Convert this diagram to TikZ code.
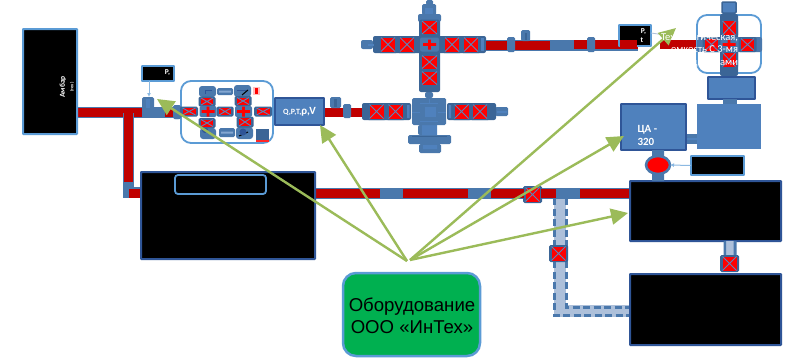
\documentclass[tikz,border=0pt]{standalone}
\usepackage{fontspec}
\setmainfont{Liberation Sans}
\newfontfamily\lab{Carlito}
\usetikzlibrary{arrows.meta,shapes.geometric}
\definecolor{vdark}{HTML}{3B6596}
\definecolor{vmid}{HTML}{4A78AC}
\definecolor{vfill}{HTML}{4F81BD}
\definecolor{vedge}{HTML}{2F5597}
\definecolor{lblue}{HTML}{5B9BD5}
\definecolor{pred}{HTML}{C00000}
\definecolor{gline}{HTML}{9BBB59}
\definecolor{gbox}{HTML}{00B050}
\definecolor{lband}{HTML}{ADC0DA}
\definecolor{xcol}{HTML}{5A86BC}
\tikzset{
  x=1pt,y=-1pt,
  every node/.style={inner sep=0pt,outer sep=0pt},
  blackbox/.style={draw=vedge,line width=2pt,fill=black,rounded corners=0.5pt,anchor=north west},
  lightbox/.style={draw=lblue,line width=1.8pt,fill=black,rounded corners=0.5pt,anchor=north west},
  bluebox/.style={draw=vedge,line width=1.8pt,fill=vfill,anchor=north west,rounded corners=0.5pt},
  midb/.style={fill=vmid,rounded corners=1.5pt},
  pipeb/.style={draw=vmid,line width=11pt},
  piper/.style={draw=pred,line width=9pt},
  green arrow/.style={draw=gline,line width=2.4pt,-{Triangle[length=17pt,width=16pt]},shorten >=0pt},
  thin arrow/.style={draw=lblue!70,line width=1pt,-{Latex[length=4pt,width=4pt]}},
  wl/.style={text=white,font=\lab\bfseries},
  dash edge/.style={draw=vmid,line width=3pt,dash pattern=on 7pt off 3.5pt},
}
\newcommand\vlv[4]{% cx cy w h
  \begin{scope}[shift={(#1,#2)}]
    \pgfmathsetmacro\wo{#3/2}\pgfmathsetmacro\ho{#4/2}
    \pgfmathsetmacro\wi{#3/2-2.5}\pgfmathsetmacro\hi{#4/2-1.5}
    \fill[vdark,rounded corners=1.5pt] (-\wo,-\ho) rectangle (\wo,\ho);
    \fill[red] (-\wi,-\hi) rectangle (\wi,\hi);
    \draw[xcol,line width=0.9pt] (-\wi,-\hi) -- (\wi,\hi) (-\wi,\hi) -- (\wi,-\hi);
  \end{scope}}
\newcommand\crs[4]{% cx cy w h
  \begin{scope}[shift={(#1,#2)}]
    \pgfmathsetmacro\wo{#3/2}\pgfmathsetmacro\ho{#4/2}
    \fill[vmid,rounded corners=2pt] (-\wo,-\ho) rectangle (\wo,\ho);
    \fill[red] (-6.5,-1.3) rectangle (6.5,1.3) (-1.3,-5) rectangle (1.3,5);
  \end{scope}}
\begin{document}
\begin{tikzpicture}
\useasboundingbox (0,0) rectangle (796,359);
\fill[white] (0,0) rectangle (796,359);

% ---- main pipes
\draw[pipeb] (77,112.5) -- (180,112.5);
\draw[piper] (77,112.5) -- (142,112.5) (165,112.5) -- (176,112.5);
\draw[pipeb] (128.5,113) -- (128.5,192.5) -- (142,192.5);
\draw[piper] (128.5,113) -- (128.5,182);
\draw[piper] (129,193) -- (142,193);
\fill[midb] (142,97) rectangle (154,108);
\fill[vfill] (146,99) rectangle (150,108);
\fill[midb] (173,105) rectangle (180,119);

% dashed branch
\draw[lband,line width=12pt] (560,194) -- (560,311) -- (630,311);
\draw[dash edge] (554,198) -- (554,315) -- (630,315);
\draw[dash edge] (566,198) -- (566,307) -- (630,307);

\draw[pipeb] (315,193.5) -- (630,193.5);
\draw[piper] (315,193.5) -- (380,193.5) (403,193.5) -- (468,193.5) (491,193.5) -- (556,193.5) (580,193.5) -- (630,193.5);
\vlv{532.5}{194.5}{19}{17}
\draw[pred,line width=9pt] (491,193.5) -- (524,193.5) (541,193.5) -- (556,193.5);

% ---- boxes
\node[blackbox,minimum width=54pt,minimum height=105pt,draw=lblue] (ambar) at (23,29) {};
\node[wl,rotate=90,font=\lab\bfseries\fontsize{7.5}{7.5}\selectfont] at (63,87) {Амбар};
\node[wl,rotate=90,font=\lab\bfseries\fontsize{4.5}{4.5}\selectfont] at (72,87) {(тех)};
\node[lightbox,minimum width=32pt,minimum height=15pt] (pleft) at (142,66) {};
\node[wl,font=\lab\bfseries\fontsize{7.5}{7.5}\selectfont] at (167.5,73) {P,};
\coordinate (ptap) at (149,97);
\draw[thin arrow] (149,81) -- (ptap);

\node[blackbox,minimum width=174pt,minimum height=87pt] (sep) at (141,172) {};
\node[lightbox,minimum width=91pt,minimum height=19pt,rounded corners=3pt] (sepin) at (175,175) {};

\node[blackbox,minimum width=151pt,minimum height=60pt] (b3) at (630,181) {};
\node[blackbox,minimum width=151pt,minimum height=71pt] (b4) at (630,274) {};
\fill[lband] (725,241) rectangle (736,257);
\fill[vmid] (723.5,241) rectangle (726,256) (733.5,241) rectangle (736.5,256);
\vlv{729.5}{263.5}{19}{17}

\vlv{558.5}{253.5}{19}{17}

% ---- manifold
\node[draw=lblue,line width=1.8pt,fill=white,rounded corners=10pt,minimum width=92pt,minimum height=62pt,anchor=north west] (mani) at (181,81) {};
\fill[midb] (174,105) rectangle (181,119);
\fill[midb,rounded corners=3pt] (199,86) rectangle (216,97) (234,85) rectangle (251,97) (200,128) rectangle (216,139) (236,127) rectangle (253,139);
\fill[midb] (217,88) rectangle (233,95) (219,128) rectangle (235,137);
\fill[vfill!70] (219,90.5) rectangle (231,92.5) (221,131.5) rectangle (233,133.5);
\fill[pink] (253,87) rectangle (260,95); \fill[red] (255,88) rectangle (258,94);
\draw[vedge,line width=.8pt] (205,94) -- (205,90) -- (212,90) (237,90) -- (248,90);
\draw[black,line width=1pt] (242,95) -- (248,90);
\draw[black,line width=1pt] (239,136) -- (248,132);
\fill[vedge] (205,130) circle (3pt) (243,132) circle (3.5pt);
\fill[vdark] (256,129) rectangle (269,140);
\fill[red!80!pink] (256,139.5) rectangle (269,141.5);
\vlv{189}{111.5}{18}{10}
\vlv{225}{111.5}{17}{10}
\vlv{263}{111.5}{18}{10}
\vlv{207}{101.5}{17}{10}
\vlv{243}{101}{17}{10}
\vlv{207}{123}{17}{10}
\vlv{245}{122}{17}{11}
\crs{208}{111.5}{17}{11}
\crs{243.5}{111.5}{17}{11}

% ---- flowmeter and center tree
\draw[piper] (324,112) -- (363,112);
\fill[midb] (330,97) rectangle (341,108);
\fill[vdark] (334,99) rectangle (336.5,107);
\fill[midb] (343,104) rectangle (351,118);
\node[bluebox,minimum width=49pt,minimum height=27pt] (qbox) at (275,98) {};
\node[text=white,font=\lab\bfseries\fontsize{8}{8}\selectfont] at (299.5,112) {Q,P,T,{\fontsize{11}{11}\selectfont ρ,V}};

\fill[midb] (495,107) rectangle (508,116);
\fill[vfill] (497,110.5) rectangle (507,112.5);
\fill[vmid,rounded corners=2pt] (425,92) rectangle (433,98);
\fill[vmid,rounded corners=2pt] (418,125) rectangle (436,135);
\fill[midb] (408,135) rectangle (451,144);
\fill[midb] (419,144) rectangle (441,153);
\fill[vfill] (422,125) rectangle (437,135) (423,145) rectangle (437,149);
\fill[vdark] (412,135.5) rectangle (447,136.5);
\fill[midb] (412,98) rectangle (446,125);
\fill[vfill] (425,107) rectangle (436,117);
\draw[vfill,line width=.8pt] (412,112) -- (420,112) (438,112) -- (446,112) (429,99) -- (429,103) (420,103) -- (438,103) (420,121) -- (438,121);
\fill[vdark,rounded corners=2pt] (362,103) rectangle (411,120) (447,103) rectangle (496,120);
\vlv{376.5}{111.5}{19}{17}
\vlv{395.5}{111.5}{19}{17}
\vlv{461.5}{111.5}{19}{17}
\vlv{480}{111.5}{19}{17}
\fill[vfill] (407,105) rectangle (409.5,118) (448.5,105) rectangle (451,118);

% ---- top tree
\fill[midb] (426,0) rectangle (433,5);
\fill[midb] (422,4) rectangle (436,15);
\fill[vfill] (425,8) rectangle (433,14);
\fill[midb,rounded corners=2pt] (418,14) rectangle (441,22);
\fill[vdark,rounded corners=2pt] (419,20) rectangle (440,92);
\fill[vdark,rounded corners=2pt] (373,36) rectangle (486,53);
\fill[midb,rounded corners=2pt] (361,40) rectangle (373,49);
\fill[vfill] (368,43.5) rectangle (374,46);
\vlv{429.5}{27.5}{20}{16}
\vlv{429.5}{62}{20}{16}
\vlv{429.5}{78}{20}{16}
\vlv{388}{44.5}{19}{17}
\vlv{407}{44.5}{19}{17}
\vlv{452}{44.5}{19}{17}
\vlv{471}{44.5}{19}{17}
\crs{429.5}{44.5}{19}{14}
\fill[vfill] (481,38) rectangle (484,51);
\draw[pipeb] (486,45) -- (638,45);
\draw[piper] (486,45) -- (550,45) (574,44) -- (638,44);
\fill[midb] (507,37) rectangle (515,52);
\fill[midb] (521,30) rectangle (530,41);
\fill[vdark] (525,33) rectangle (526.5,40);
\fill[midb] (587,37) rectangle (595,52);

% ---- right side
\node[lightbox,minimum width=32pt,minimum height=21pt] (pright) at (619,25) {};
\draw[pred,line width=8pt] (620,44) -- (637,44);
\node[wl,font=\lab\bfseries\fontsize{7.5}{7.5}\selectfont] at (643.5,32) {P,};
\node[wl,font=\lab\bfseries\fontsize{7.5}{7.5}\selectfont] at (642,40.5) {t};
\draw[piper] (660,44) -- (702,44);

\node[draw=lblue,line width=1.8pt,rounded corners=10pt,minimum width=64pt,minimum height=58pt,anchor=north west] (tank) at (697,15) {};
\fill[vmid] (697,37) rectangle (702,52);
\fill[vfill] (722,3) rectangle (736,13);
\draw[vdark,line width=1.5pt,rounded corners=1pt] (722,2) rectangle (736,13);
\fill[vdark,rounded corners=2pt] (720,14) rectangle (738,76);
\fill[vmid,rounded corners=2pt] (702,37) rectangle (762,52);
\vlv{729}{28}{18}{17}
\vlv{711.5}{44.5}{18}{15}
\vlv{747.5}{44.5}{18}{15}
\vlv{729}{59.5}{18}{17}
\crs{729}{44.5}{17}{14}

\node[bluebox,minimum width=47pt,minimum height=22pt] (b5) at (708,77) {};
\fill[vmid] (723,99) rectangle (737,104);
\fill[vfill] (697,104) rectangle (761,149);
\fill[vmid] (686,134) rectangle (697,144);
\fill[vfill] (686,137.5) rectangle (697,140);
\node[bluebox,minimum width=65pt,minimum height=46pt] (ca) at (621,104) {};
\node[wl,font=\lab\bfseries\fontsize{11}{13}\selectfont,align=left,anchor=west] at (637.5,135) {ЦА -\\320};
\fill[vmid] (652,150) rectangle (664,158) (652,172) rectangle (664,181);
\node[draw=vmid,line width=2.5pt,fill=red,ellipse,minimum width=24pt,minimum height=18pt] (pump) at (658,165) {};
\node[lightbox,minimum width=53pt,minimum height=19pt] (pbox) at (691,156) {};
\draw[thin arrow] (pbox.west) -- (pump.east);

\draw[lband,line width=.8pt] (651,33) -- (665,35);

% ---- green labels and arrows
\node[draw=lblue,line width=2.5pt,fill=gbox,rounded corners=13pt,minimum width=137pt,minimum height=83pt,anchor=north west] (intex) at (343,273) {};
\node[font=\fontsize{18.6}{22}\selectfont,align=center] (intexlab) at (412,316) {Оборудование\\ООО «ИнТех»};
\coordinate (hub1) at (407,261);
\coordinate (hub2) at (410,260);
\coordinate (t1) at (157,99);
\coordinate (t2) at (320,125);
\coordinate (t3) at (676,28);
\coordinate (t4) at (624,136);
\coordinate (t5) at (628,213);
\draw[green arrow] (hub1) -- (t1);
\draw[green arrow] (hub1) -- (t2);
\draw[green arrow] (hub2) -- (t3);
\draw[green arrow] (hub2) -- (t4);
\draw[green arrow] (hub2) -- (t5);

% ---- white caption, mostly lost on the white ground
\node[text=white,font=\lab\fontsize{10.5}{12.5}\selectfont,align=right,anchor=east] (cap) at (738,50) {Технологическая,\hspace{3pt}\\емкость С 3-мя\hspace{19pt}\\задвижками};
\end{tikzpicture}
\end{document}
